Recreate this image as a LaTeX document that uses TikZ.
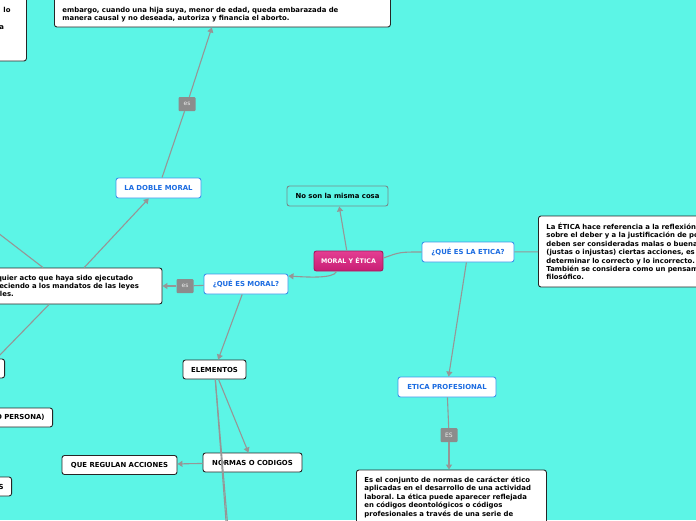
\documentclass[tikz,border=0pt]{standalone}
\usepackage{fontspec}
\setmainfont{DejaVu Sans}
\frenchspacing
\usetikzlibrary{arrows.meta}
\definecolor{fondo}{RGB}{92,245,230}
\definecolor{azul}{RGB}{28,108,225}
\definecolor{bordeazul}{RGB}{60,150,235}
\definecolor{magsup}{RGB}{228,62,146}
\definecolor{maginf}{RGB}{200,30,116}
\definecolor{gris}{RGB}{150,150,150}
\definecolor{grisborde}{RGB}{120,138,138}
\definecolor{etiqueta}{RGB}{140,140,140}
\begin{document}
\begin{tikzpicture}[x=1pt,y=-1pt,
  font=\fontsize{6.9}{8.4}\selectfont\bfseries,
  box/.style={rectangle,rounded corners=2.5pt,draw=black!85,line width=0.9pt,fill=white,inner xsep=8pt},
  topic/.style={box,draw=bordeazul,text=azul,minimum height=20pt},
  item/.style={box,minimum height=19pt},
  long/.style={box,align=left,inner ysep=0pt},
  lbl/.style={rectangle,rounded corners=1pt,fill=etiqueta,text=white!85!gray,font=\fontsize{6}{6}\selectfont\mdseries,minimum width=17pt,minimum height=14pt,inner sep=1pt},
  link/.style={draw=gris,line width=1.1pt},
  tip/.style={-{Triangle[width=6pt,length=5pt]}}]
\useasboundingbox (0,0) rectangle (696,520);
\fill[fondo] (0,0) rectangle (696,520);
% recuadros de texto largo
\node[long,text width=320pt,text height=50pt,text depth=14.5pt,anchor=base west] (acto) at (54,12.5)
  {embargo, cuando una hija suya, menor de edad, queda embarazada de\\ manera causal y no deseada, autoriza y financia el aborto.};
\node[long,text width=16pt,text height=50pt,text depth=48.5pt,anchor=base west] (izqtop) at (-6,12.5) {\hspace*{1pt}lo\\[8.4pt]\hspace*{-3pt}a};
\node[long,text width=174pt,minimum width=190pt,minimum height=36pt,inner ysep=4pt] (cualq) at (67,286)
  {Cualquier acto que haya sido ejecutado\\ obedeciendo a los mandatos de las leyes\\ morales.};
\node[long,text width=220pt,text height=13.5pt,text depth=57.5pt,anchor=base west] (eticadef) at (538,229.5)
  {La ÉTICA hace referencia a la reflexión\\ sobre el deber y a la justificación de por qué\\ deben ser consideradas malas o buenas\\ (justas o injustas) ciertas acciones, es decir,\\ determinar lo correcto y lo incorrecto.\\ También se considera como un pensamiento\\ filosófico.};
\node[long,text width=174pt,text height=12.5pt,text depth=60pt,anchor=base west] (conjunto) at (356,482.5)
  {Es el conjunto de normas de carácter ético\\ aplicadas en el desarrollo de una actividad\\ laboral. La ética puede aparecer reflejada\\ en códigos deontológicos o códigos\\ profesionales a través de una serie de};
% temas
\node[box,minimum width=69pt,minimum height=20pt,inner xsep=4pt,font=\fontsize{6.3}{8}\selectfont\bfseries,top color=magsup,bottom color=maginf,draw=maginf!80!black,text=white] (moral) at (348.5,261) {MORAL Y ÉTICA};
\node[box,fill=none,draw=grisborde,minimum width=101pt,minimum height=20pt] (noson) at (337.5,196) {No son la misma cosa};
\node[topic,minimum width=84pt] (qmoral) at (246,284) {¿QUÉ ES MORAL?};
\node[topic,minimum width=92pt] (qetica) at (468,252) {¿QUÉ ES LA ETICA?};
\node[topic,minimum width=85pt] (doble) at (158.5,188) {LA DOBLE MORAL};
\node[topic,minimum width=98pt] (eticaprof) at (447,387) {ETICA PROFESIONAL};
\node[item,minimum width=63pt] (elementos) at (214.5,369.5) {ELEMENTOS};
\node[item,minimum width=99pt] (normas) at (252.5,462.5) {NORMAS O CODIGOS};
\node[item,minimum width=115pt] (regulan) at (119.5,465) {QUE REGULAN ACCIONES};
\node[item,minimum width=80pt,anchor=east] (izqA) at (5,368.5) {};
\node[item,anchor=east] (izqB) at (53,417.5) {(GRUPO O PERSONA)};
\node[item,anchor=east] (izqC) at (12,486.5) {VALORES};
% etiquetas
\node[lbl] (es1) at (187,104) {es};
\node[lbl] (es2) at (185,286) {es};
\node[lbl] (es3) at (449,435) {ES};
\coordinate (offA) at (-50,196);
\coordinate (offB) at (-4,359);
\coordinate (offC) at (232,600);
\coordinate (offD) at (234,600);
% conexiones
\path[link] (doble) -- (es1); \path[link,tip] (es1) -- (acto);
\path[link,tip] (cualq) -- (doble);
\path[link] (cualq) -- (offA); \path[link] (cualq) -- (offB);
\path[link] (qmoral) -- (es2); \path[link,tip] (es2) -- (cualq);
\path[link,tip] ([xshift=-12pt]moral.south) .. controls (334,279) and (305,277) .. ([yshift=8pt]qmoral.east);
\path[link,tip] (moral) -- (noson);
\path[link] ([yshift=3pt]moral.east) .. controls (400,252) .. (qetica.west);
\path[link] (qetica) -- (eticadef);
\path[link,tip] (qetica) -- (eticaprof);
\path[link] (eticaprof) -- (es3); \path[link,tip] (es3) -- (conjunto.north -| es3);
\path[link,tip] (qmoral) -- (elementos);
\path[link,tip] (elementos) -- (normas);
\path[link] (elementos) -- (offC); \path[link] (elementos) -- (offD);
\path[link,tip] (normas) -- (regulan);
\end{tikzpicture}
\end{document}
